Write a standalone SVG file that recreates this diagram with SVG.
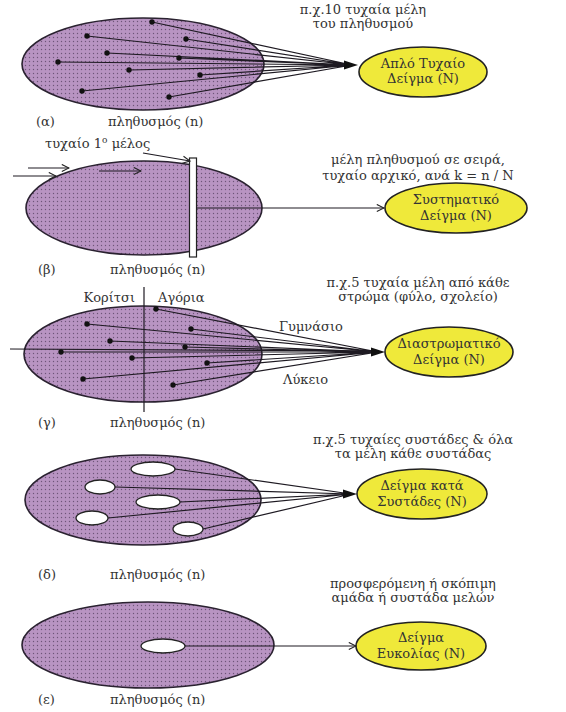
<svg xmlns="http://www.w3.org/2000/svg" width="566" height="712" viewBox="0 0 566 712">
<defs>
<pattern id="dots" width="4" height="4" patternUnits="userSpaceOnUse">
<rect width="4" height="4" fill="#b894c2"/>
<circle cx="1.5" cy="1.5" r="0.7" fill="#6e5579"/>
</pattern>
<marker id="open" viewBox="0 0 10 10" refX="9" refY="5" markerWidth="9" markerHeight="9" orient="auto" markerUnits="userSpaceOnUse">
<path d="M1,1 L9,5 L1,9" fill="none" stroke="#222" stroke-width="1.2"/>
</marker>
</defs>
<style>
.pop{fill:url(#dots);stroke:#2a2230;stroke-width:1.6}
.samp{fill:#efe93a;stroke:#222;stroke-width:1.6}
.hole{fill:#fff;stroke:#222;stroke-width:1.3}
.ln{stroke:#1e1a22;stroke-width:1.2;fill:none}
.ar{stroke:#1e1a22;stroke-width:1.2;fill:none;marker-end:url(#open)}
.dot{fill:#111}
.head{fill:#111}
text{font-family:"DejaVu Serif","Liberation Serif",serif;font-size:13px;fill:#333}
.c{text-anchor:middle}
</style>
<rect width="566" height="712" fill="#fff"/>

<!-- Panel alpha -->
<g id="pop-a"><ellipse class="pop" cx="143" cy="64" rx="121" ry="46"/></g>
<g id="sample-a"><ellipse class="samp" cx="423" cy="72" rx="64" ry="25"/>
<text class="c" x="423" y="68">Απλό Τυχαίο</text><text class="c" x="423" y="83">Δείγμα (N)</text></g>
<g id="label-a"><text class="c" x="363" y="14">π.χ.10 τυχαία μέλη</text><text class="c" x="363" y="28">του πληθυσμού</text>
<text x="36" y="126">(α)</text><text x="108" y="126">πληθυσμός (n)</text></g>

<!-- Panel beta -->
<g id="pop-b"><ellipse class="pop" cx="144" cy="208" rx="118" ry="47"/>
<rect x="189.5" y="158" width="7" height="99" fill="#fff" stroke="#222" stroke-width="1.2"/></g>
<g id="sample-b"><ellipse class="samp" cx="456" cy="208" rx="71" ry="25"/>
<text class="c" x="456" y="204">Συστηματικό</text><text class="c" x="456" y="220">Δείγμα (N)</text></g>
<g id="label-b"><text x="45" y="148">τυχαίο 1<tspan dy="-5" font-size="9">ο</tspan><tspan dy="5"> μέλος</tspan></text>
<text class="c" x="418" y="164">μέλη πληθυσμού σε σειρά,</text><text class="c" x="418" y="180">τυχαίο αρχικό, ανά k = n / N</text>
<text x="38" y="274">(β)</text><text x="110" y="274">πληθυσμός (n)</text></g>

<!-- Panel gamma -->
<g id="pop-c"><ellipse class="pop" cx="143" cy="354" rx="119" ry="48"/>
<line class="ln" x1="144" y1="287" x2="144" y2="412" stroke-width="1.5"/></g>
<g id="sample-c"><ellipse class="samp" cx="449" cy="352" rx="64" ry="25"/>
<text class="c" x="449" y="348">Διαστρωματικό</text><text class="c" x="449" y="364">Δείγμα (N)</text></g>
<g id="label-c"><text class="c" x="418" y="287">π.χ.5 τυχαία μέλη από κάθε</text><text class="c" x="418" y="301">στρώμα (φύλο, σχολείο)</text>
<text x="135" y="302" text-anchor="end">Κορίτσι</text><text x="158" y="302">Αγόρια</text>
<text x="279" y="331">Γυμνάσιο</text><text x="283" y="384">Λύκειο</text>
<text x="38" y="427">(γ)</text><text x="110" y="427">πληθυσμός (n)</text></g>

<!-- Panel delta -->
<g id="pop-d"><ellipse class="pop" cx="143" cy="500" rx="118" ry="45"/>
<ellipse class="hole" cx="153" cy="469" rx="22" ry="7"/>
<ellipse class="hole" cx="100" cy="487" rx="15" ry="7"/>
<ellipse class="hole" cx="158" cy="502" rx="22" ry="7"/>
<ellipse class="hole" cx="92" cy="518" rx="16" ry="7"/>
<ellipse class="hole" cx="188" cy="529" rx="15" ry="7"/></g>
<g id="sample-d"><ellipse class="samp" cx="422" cy="494" rx="65" ry="25"/>
<text class="c" x="422" y="490">Δείγμα κατά</text><text class="c" x="422" y="506">Συστάδες (N)</text></g>
<g id="label-d"><text class="c" x="413" y="444">π.χ.5 τυχαίες συστάδες &amp; όλα</text><text class="c" x="413" y="458">τα μέλη κάθε συστάδας</text>
<text x="38" y="579">(δ)</text><text x="110" y="579">πληθυσμός (n)</text></g>

<!-- Panel epsilon -->
<g id="pop-e"><ellipse class="pop" cx="148" cy="645" rx="126" ry="43"/>
<ellipse class="hole" cx="163" cy="646" rx="22" ry="7"/></g>
<g id="sample-e"><ellipse class="samp" cx="421" cy="646" rx="65" ry="24"/>
<text class="c" x="421" y="642">Δείγμα</text><text class="c" x="421" y="658">Ευκολίας (N)</text></g>
<g id="label-e"><text class="c" x="413" y="588">προσφερόμενη ή σκόπιμη</text><text class="c" x="413" y="602">αμάδα ή συστάδα μελών</text>
<text x="38" y="704">(ε)</text><text x="110" y="704">πληθυσμός (n)</text></g>

<!-- Connectors -->
<g id="connectors">
<!-- alpha -->
<g class="ln">
<path d="M152,22L352,65M87,36L352,65M186,39L352,65M107,53L352,65M58,62L352,65M179,58L352,65M129,70L352,65M200,75L352,65M82,91L352,65M169,97L352,65"/>
</g>
<polygon class="head" points="358,65 344,60.5 344,69.5"/>
<g class="dot"><circle cx="152" cy="22" r="2.7"/><circle cx="87" cy="36" r="2.7"/><circle cx="186" cy="39" r="2.7"/><circle cx="107" cy="53" r="2.7"/><circle cx="58" cy="62" r="2.7"/><circle cx="179" cy="58" r="2.7"/><circle cx="129" cy="70" r="2.7"/><circle cx="200" cy="75" r="2.7"/><circle cx="82" cy="91" r="2.7"/><circle cx="169" cy="97" r="2.7"/></g>
<!-- beta -->
<line class="ar" x1="196.5" y1="208" x2="384" y2="208"/>
<line class="ar" x1="143" y1="153" x2="190" y2="161"/>
<line class="ar" x1="28" y1="168" x2="69" y2="168"/>
<line class="ar" x1="13" y1="176" x2="56" y2="176"/>
<line class="ar" x1="99" y1="171" x2="141" y2="171"/>
<!-- gamma -->
<line class="ln" x1="10" y1="349" x2="378" y2="351" stroke-width="1.5"/>
<path class="ln" d="M156,309L378,352M87,324L378,352M191,329L378,352M110,341L378,352M185,347L378,352M61,352L378,352M132,358L378,352M207,363L378,352M83,379L378,352M173,385L378,352"/>
<polygon class="head" points="385,352 371,347.5 371,356.5"/>
<g class="dot"><circle cx="156" cy="309" r="2.7"/><circle cx="87" cy="324" r="2.7"/><circle cx="191" cy="329" r="2.7"/><circle cx="110" cy="341" r="2.7"/><circle cx="185" cy="347" r="2.7"/><circle cx="61" cy="352" r="2.7"/><circle cx="132" cy="358" r="2.7"/><circle cx="207" cy="363" r="2.7"/><circle cx="83" cy="379" r="2.7"/><circle cx="173" cy="385" r="2.7"/></g>
<!-- delta -->
<path class="ln" d="M175,469L351,494M115,487L351,494M180,502L351,494M108,518L351,494M203,529L351,494"/>
<polygon class="head" points="357,494 343,489.5 343,498.5"/>
<!-- epsilon -->
<line class="ar" x1="185" y1="646" x2="356" y2="646"/>
</g>
</svg>
